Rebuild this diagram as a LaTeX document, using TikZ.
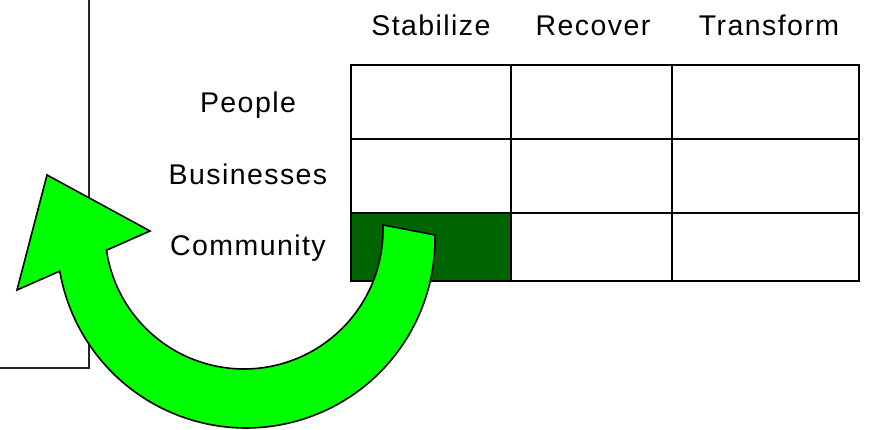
\documentclass[tikz,border=0pt]{standalone}
\usepackage{fontspec}
\setmainfont{Liberation Sans}[LetterSpace=5]
\definecolor{brightgreen}{RGB}{0,255,0}
\definecolor{darkcell}{RGB}{0,100,0}
\begin{document}
\begin{tikzpicture}[x=1pt,y=-1pt,
  cell/.style={draw=black,line width=2.4pt,inner sep=0pt,anchor=north west},
  lbl/.style={font=\fontsize{28.5}{32}\selectfont,anchor=base,inner sep=0pt},
  boxline/.style={draw=black!85,line width=1.5pt},
  bigarrow/.style={draw=black,line width=1.6pt,fill=brightgreen,line join=miter}]
\useasboundingbox (0,0) rectangle (869,430);
% left box edge
\coordinate (bxTop) at (89,-2);
\coordinate (bxCorner) at (89,368);
\coordinate (bxLeft) at (-2,368);
\draw[boxline] (bxTop) -- (bxCorner) -- (bxLeft);
% headers
\node[lbl] (hS) at (431,36) {Stabilize};
\node[lbl] (hR) at (593,36) {Recover};
\node[lbl] (hT) at (769,36) {Transform};
% row labels
\node[lbl] (rP) at (248,113) {People};
\node[lbl] (rB) at (248,185) {Businesses};
\node[lbl] (rC) at (248,255) {Community};
% grid cells
\node[cell,minimum width=160pt,minimum height=74pt] (c11) at (350,64) {};
\node[cell,minimum width=161pt,minimum height=74pt] (c12) at (510,64) {};
\node[cell,minimum width=187pt,minimum height=74pt] (c13) at (671,64) {};
\node[cell,minimum width=160pt,minimum height=74pt] (c21) at (350,138) {};
\node[cell,minimum width=161pt,minimum height=74pt] (c22) at (510,138) {};
\node[cell,minimum width=187pt,minimum height=74pt] (c23) at (671,138) {};
\node[cell,fill=darkcell,minimum width=160pt,minimum height=68pt] (c31) at (350,212) {};
\node[cell,minimum width=161pt,minimum height=68pt] (c32) at (510,212) {};
\node[cell,minimum width=187pt,minimum height=68pt] (c33) at (671,212) {};
% curved arrow
\draw[bigarrow] (435,235)
  -- plot[domain=-1.2:170.2,samples=90] ({246+189*cos(\x)},{239+189*sin(\x)})
  -- (17,290) -- (47,175) -- (150,231) -- (107,250)
  -- plot[domain=171.7:-2.1,samples=90] ({244+139*cos(\x)},{230+139*sin(\x)})
  -- cycle;
\end{tikzpicture}
\end{document}
